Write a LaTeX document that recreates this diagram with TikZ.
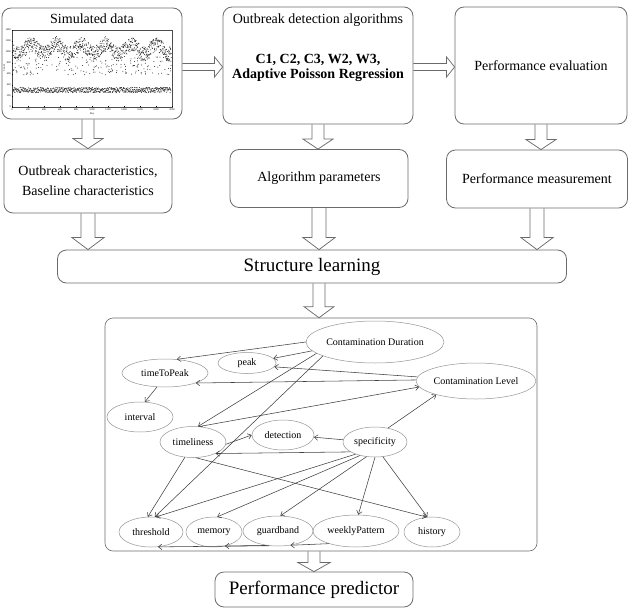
\documentclass[tikz,border=0pt]{standalone}
\usepackage{fontspec}
\setmainfont{Liberation Serif}
\usetikzlibrary{shapes.geometric,arrows.meta,calc}

\definecolor{boxgray}{gray}{0.42}
\newcommand{\boxfont}{\fontsize{14}{20}\selectfont}
\newcommand{\bigfont}{\fontsize{19}{22}\selectfont}
\newcommand{\tickfont}{\fontsize{2.6}{3}\selectfont}

\tikzset{
  box/.style={draw=boxgray, rounded corners=9pt, line width=0.8pt},
  var/.style={ellipse, draw=gray!85, line width=0.5pt, inner sep=0pt,
    font=\fontsize{10}{12}\selectfont},
  link/.style={draw=black!75, line width=0.55pt,
    -{Straight Barb[length=3.5pt,width=5.5pt]}},
  fat/.style={draw=boxgray, line width=0.75pt, line join=miter},
  tick/.style={inner sep=0pt, font=\tickfont},
  dot/.style={fill=black!85},
}

% hollow block arrow: from, to, half shaft, half head, head length
\newcommand{\fatarrow}[5]{%
  \coordinate (fa-s) at (#1);
  \coordinate (fa-e) at (#2);
  \coordinate (fa-h) at ($(fa-e)!#5!(fa-s)$);
  \draw[fat] ($(fa-s)!#3!90:(fa-e)$) -- ($(fa-h)!#3!-90:(fa-s)$)
    -- ($(fa-h)!#4!-90:(fa-s)$) -- (fa-e) -- ($(fa-h)!#4!90:(fa-s)$)
    -- ($(fa-h)!#3!90:(fa-s)$) -- ($(fa-s)!#3!-90:(fa-e)$);
}

\begin{document}
\begin{tikzpicture}[x=1pt,y=-1pt]
  \useasboundingbox (0,0) rectangle (634,610);

  % top row
  \node[box, minimum width=180pt, minimum height=111pt] (sim) at (92,63.5) {};
  \node[font=\boxfont] (simtitle) at (92,19) {Simulated data};
  \node[box, minimum width=190pt, minimum height=117pt] (alg) at (318,65.5) {};
  \node[font=\boxfont] (algtitle) at (318,20) {Outbreak detection algorithms};
  \node[font=\boxfont\bfseries, align=center] (alglist) at (318,68)
    {C1, C2, C3, W2, W3,\\[-5pt]Adaptive Poisson Regression};
  \node[box, minimum width=172pt, minimum height=117pt, font=\boxfont] (eval) at (541,65.5)
    {Performance evaluation};

  % the simulated series
  \draw[line width=0.4pt, black!70] (12,30) rectangle (172,107);
  \foreach \k [evaluate=\k as \v using int(200*\k)] in {0,...,10}{
    \draw[line width=0.3pt] (12+16*\k,107) -- ++(0,-1.3);
    \node[tick] (xt\k) at (12+16*\k,110) {\v};
  }
  \foreach \k [evaluate=\k as \v using int(1400-200*\k)] in {0,...,7}{
    \draw[line width=0.3pt] (12,30+11*\k) -- ++(1.3,0);
    \node[tick, anchor=east] (yt\k) at (11,30+11*\k) {\v};
  }
  \node[tick] (xlab) at (92,113.5) {Day};
  \node[tick, rotate=90] (ylab) at (4,68) {Count};
  \pgfmathsetseed{42}
  \foreach \i in {0,...,899}{
    \pgfmathsetmacro{\px}{13+0.176*\i}
    \pgfmathsetmacro{\py}{49-5*sin(14.4*\px)+7.5*rand}
    \fill[dot] (\px,\py) circle[radius=0.5pt];
  }
  \foreach \i in {0,...,179}{
    \pgfmathsetmacro{\px}{13+158*rnd}
    \pgfmathsetmacro{\py}{66+9*rand}
    \fill[dot] (\px,\py) circle[radius=0.5pt];
  }
  \foreach \i in {0,...,639}{
    \pgfmathsetmacro{\px}{13+0.247*\i}
    \pgfmathsetmacro{\py}{90+2.6*rand}
    \fill[dot] (\px,\py) circle[radius=0.5pt];
  }

  % second row
  \node[box, minimum width=168pt, minimum height=64pt, font=\boxfont, align=center] (outc)
    at (88,181) {Outbreak characteristics,\\Baseline characteristics};
  \node[box, minimum width=178pt, minimum height=58pt, font=\boxfont] (params) at (319,178.5)
    {Algorithm parameters};
  \node[box, minimum width=181pt, minimum height=58pt, font=\boxfont] (meas) at (537,179)
    {Performance measurement};
  \node[box, minimum width=509pt, minimum height=33pt, font=\bigfont] (learn) at (312,266.5)
    {Structure learning};

  % learned network
  \node[box, rounded corners=8pt, line width=0.6pt, minimum width=432pt, minimum height=233pt]
    (net) at (321,434.5) {};
  \node[var, minimum width=128pt, minimum height=42pt] (cdur) at (375,342) {Contamination Duration};
  \node[var, minimum width=110pt, minimum height=36pt] (clev) at (476,381) {Contamination Level};
  \node[var, minimum width=86pt, minimum height=28pt] (ttp) at (165,373) {timeToPeak};
  \node[var, minimum width=58pt, minimum height=21pt] (peak) at (247,363) {peak};
  \node[var, minimum width=66pt, minimum height=30pt] (intv) at (140,417) {interval};
  \node[var, minimum width=66pt, minimum height=31pt] (tml) at (193,442) {timeliness};
  \node[var, minimum width=62pt, minimum height=30pt] (det) at (283,435) {detection};
  \node[var, minimum width=64pt, minimum height=30pt] (spec) at (375,442) {specificity};
  \node[var, minimum width=64pt, minimum height=30pt] (thr) at (151,532) {threshold};
  \node[var, minimum width=56pt, minimum height=30pt] (mem) at (214,532) {memory};
  \node[var, minimum width=70pt, minimum height=30pt] (gb) at (278,531) {guardband};
  \node[var, minimum width=86pt, minimum height=32pt] (wkp) at (356,531) {weeklyPattern};
  \node[var, minimum width=56pt, minimum height=30pt] (hist) at (432,532) {history};

  \draw[link] (cdur.180) -- (ttp.49);
  \draw[link] (cdur.188) -- (peak.10);
  \draw[link] (cdur.191) -- (tml.72);
  \draw[link] (cdur.195) -- (thr.76);
  \draw[link] (clev.176) -- (peak.352);
  \draw[link] (clev.179) -- (ttp.342);
  \draw[link] (ttp.240) -- (intv.72);
  \draw[link] (tml.68) -- (clev.186);
  \draw[link] (spec.47) -- (clev.199);
  \draw[link] (spec.176) -- (det.356);
  \draw[link] (tml.356) -- (det.180);
  \draw[link] (spec.202) -- (tml.333);
  \draw[link] (tml.242) -- (thr.102);
  \draw[link] (tml.280) -- (hist.110);
  \draw[link] (spec.212) -- (thr.72);
  \draw[link] (spec.222) -- (mem.78);
  \draw[link] (spec.240) -- (gb.81);
  \draw[link] (spec.270) -- (wkp.82);
  \draw[link] (spec.298) -- (hist.107);
  \draw[link] (gb.238) -- (thr.295);
  \draw[link] (gb.232) -- (mem.308);
  \draw[link] (wkp.205) -- (gb.311);

  \node[box, minimum width=198pt, minimum height=35pt, font=\bigfont] (pred) at (314,589.5)
    {Performance predictor};

  % block arrows
  \fatarrow{$(sim.east)+(0,3.5)$}{$(sim.east -| alg.west)+(0,3.5)$}{3.5pt}{10pt}{8pt}
  \fatarrow{$(alg.east)+(0,1.5)$}{$(alg.east -| eval.west)+(0,1.5)$}{3.5pt}{10pt}{8pt}
  \fatarrow{outc.north |- sim.south}{outc.north}{6pt}{15pt}{10pt}
  \fatarrow{alg.south}{alg.south |- params.north}{6pt}{15pt}{10pt}
  \fatarrow{eval.south}{eval.south |- meas.north}{6pt}{15pt}{10pt}
  \fatarrow{outc.south}{outc.south |- learn.north}{7pt}{16pt}{12pt}
  \fatarrow{params.south}{params.south |- learn.north}{7pt}{16pt}{12pt}
  \fatarrow{meas.south}{meas.south |- learn.north}{7pt}{16pt}{12pt}
  \fatarrow{learn.south -| params.south}{net.north -| params.south}{6pt}{15pt}{11pt}
  \fatarrow{net.south -| pred.north}{pred.north}{6pt}{16pt}{9pt}
\end{tikzpicture}
\end{document}
